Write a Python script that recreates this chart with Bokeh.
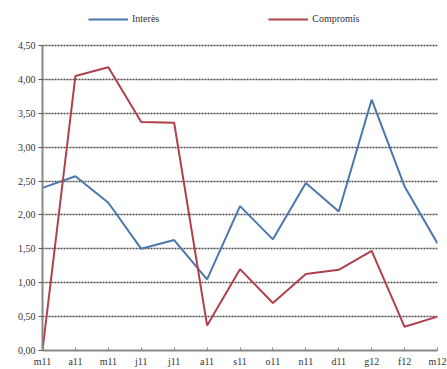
from bokeh.plotting import figure
from bokeh.models import Legend, LegendItem, FixedTicker, CustomJSTickFormatter, Range1d
from bokeh.embed import file_html
from bokeh.resources import INLINE

months = ["m11", "a11", "m11", "j11", "j11", "a11", "s11", "o11", "n11", "d11", "g12", "f12", "m12"]
interes = [2.40, 2.57, 2.18, 1.50, 1.63, 1.05, 2.13, 1.64, 2.47, 2.05, 3.70, 2.42, 1.58]
compromis = [0.00, 4.05, 4.18, 3.37, 3.36, 0.37, 1.20, 0.70, 1.13, 1.19, 1.47, 0.35, 0.50]
y_ticks = [0, 0.5, 1.0, 1.5, 2.0, 2.5, 3.0, 3.5, 4.0, 4.5]

FONT = "Liberation Sans Narrow"
xs = list(range(len(months)))

p = figure(width=447, height=369, output_backend="svg", toolbar_location=None,
           x_range=Range1d(0, len(months) - 1), y_range=Range1d(0, 5.09),
           min_border_left=42, min_border_right=10, min_border_top=5, min_border_bottom=19)
p.outline_line_color = None
p.background_fill_color = "white"

r1 = p.line(xs, interes, line_color="#4a78ad", line_width=2)
r2 = p.line(xs, compromis, line_color="#b0404c", line_width=2)

p.xgrid.grid_line_color = None
p.ygrid.grid_line_color = "#4a4a4a"
p.ygrid.grid_line_dash = "2 1"
p.ygrid.grid_line_width = 1.6
p.ygrid.ticker = FixedTicker(ticks=y_ticks)

p.yaxis.ticker = FixedTicker(ticks=y_ticks)
p.yaxis.bounds = (0, 4.5)
p.yaxis.formatter = CustomJSTickFormatter(code="return tick.toFixed(2).replace('.', ',');")
p.yaxis.axis_line_color = "#888888"
p.yaxis.axis_line_width = 2
p.yaxis.major_tick_line_color = "#555555"
p.yaxis.major_tick_in = 0
p.yaxis.major_tick_out = 4
p.yaxis.minor_tick_line_color = None
p.yaxis.major_label_standoff = 3

p.xaxis.ticker = FixedTicker(ticks=xs)
p.xaxis.major_label_overrides = {i: m for i, m in enumerate(months)}
p.xaxis.axis_line_color = "#888888"
p.xaxis.axis_line_width = 2
p.xaxis.major_tick_line_color = "#888888"
p.xaxis.major_tick_in = 3
p.xaxis.major_tick_out = 0
p.xaxis.minor_tick_line_color = None
p.xaxis.major_label_standoff = 5

for ax in (p.xaxis, p.yaxis):
    ax.major_label_text_font = FONT
    ax.major_label_text_font_size = "10px"
    ax.major_label_text_color = "#333333"

legend = Legend(items=[LegendItem(label="Interès", renderers=[r1]),
                       LegendItem(label="Compromís", renderers=[r2])],
                orientation="horizontal", location=(46, 326),
                spacing=109, glyph_width=40, glyph_height=10, label_standoff=4,
                label_text_font=FONT, label_text_font_size="10px",
                label_text_color="#333333", padding=2, margin=0,
                border_line_color=None, background_fill_alpha=0)
p.add_layout(legend, "center")

open("out.html", "w").write(file_html(p, INLINE))
